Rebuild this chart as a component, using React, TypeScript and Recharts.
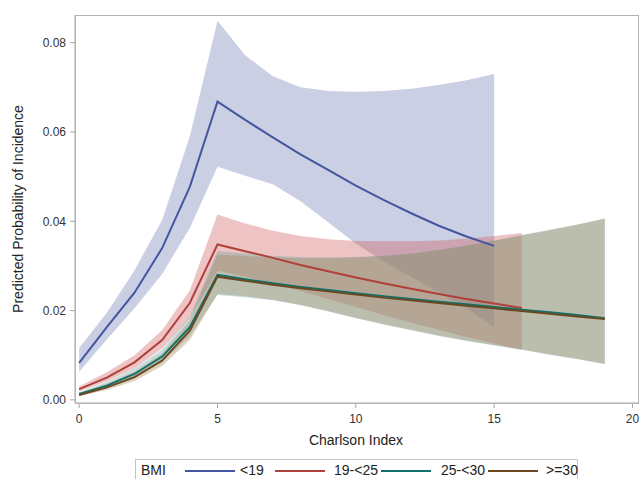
import { Area, ComposedChart, Line, XAxis, YAxis } from 'recharts';

const FONT = '"Liberation Sans", Arial, sans-serif';

// Charlson index (x) and predicted probability by BMI group
const charlson = [0, 1, 2, 3, 4, 5, 6, 7, 8, 9, 10, 11, 12, 13, 14, 15, 16, 17, 18, 19];

const blueMid = [0.0083, 0.0163, 0.024, 0.034, 0.0477, 0.0668, 0.0627, 0.0588, 0.055, 0.0515, 0.048, 0.0448, 0.0418, 0.039, 0.0366, 0.0345];
const blueLow = [0.0063, 0.0135, 0.0205, 0.0282, 0.0385, 0.0522, 0.0502, 0.0483, 0.0445, 0.0398, 0.035, 0.031, 0.0275, 0.024, 0.0205, 0.0162];
const blueHigh = [0.0116, 0.0195, 0.029, 0.0403, 0.059, 0.0849, 0.0772, 0.0725, 0.07, 0.0692, 0.069, 0.0692, 0.0697, 0.0705, 0.0716, 0.073];

const redMid = [0.0024, 0.005, 0.0084, 0.0134, 0.0217, 0.0348, 0.0333, 0.0318, 0.0302, 0.0288, 0.0274, 0.0261, 0.0249, 0.0237, 0.0226, 0.0216, 0.0206];
const redLow = [0.0019, 0.0041, 0.0071, 0.0115, 0.0184, 0.029, 0.0276, 0.026, 0.0244, 0.0226, 0.0208, 0.019, 0.0173, 0.0157, 0.0141, 0.0126, 0.0112];
const redHigh = [0.003, 0.0062, 0.01, 0.0156, 0.0245, 0.0415, 0.0395, 0.0379, 0.0367, 0.036, 0.0356, 0.0355, 0.0355, 0.0357, 0.0361, 0.0367, 0.0374];

const greenMid = [0.0013, 0.0032, 0.0058, 0.0097, 0.0163, 0.028, 0.027, 0.0261, 0.0253, 0.0246, 0.0239, 0.0232, 0.0226, 0.022, 0.0214, 0.0208, 0.0202, 0.0196, 0.019, 0.0183];
const greenLow = [0.001, 0.0026, 0.0048, 0.0084, 0.0143, 0.0235, 0.023, 0.0223, 0.0212, 0.0198, 0.0183, 0.0169, 0.0156, 0.0143, 0.0132, 0.0122, 0.0112, 0.0101, 0.0091, 0.0081];
const greenHigh = [0.0017, 0.004, 0.007, 0.0113, 0.0187, 0.0333, 0.0328, 0.0323, 0.032, 0.0319, 0.032, 0.0323, 0.0328, 0.0336, 0.0346, 0.0357, 0.0369, 0.0381, 0.0393, 0.0405];

const brownMid = [0.0011, 0.0028, 0.0051, 0.0088, 0.0155, 0.0276, 0.0267, 0.0258, 0.025, 0.0243, 0.0236, 0.0229, 0.0223, 0.0217, 0.0211, 0.0205, 0.0199, 0.0193, 0.0187, 0.0181];
const brownLow = [0.0008, 0.0022, 0.0042, 0.0076, 0.0134, 0.0237, 0.0232, 0.0224, 0.0213, 0.0199, 0.0184, 0.017, 0.0157, 0.0144, 0.0133, 0.0123, 0.0113, 0.0102, 0.0092, 0.008];
const brownHigh = [0.0015, 0.0036, 0.0063, 0.0104, 0.0178, 0.0325, 0.0322, 0.0319, 0.0317, 0.0317, 0.0319, 0.0322, 0.0327, 0.0335, 0.0345, 0.0356, 0.0368, 0.038, 0.0392, 0.0407];

const xTicks = [0, 5, 10, 15, 20];
const yTicks = [0, 0.02, 0.04, 0.06, 0.08];

const groups = [
  { key: 'blue', name: '<19', line: '#4556a0', fill: '#6F7EB3', mid: blueMid, low: blueLow, high: blueHigh },
  { key: 'red', name: '19-<25', line: '#b0403a', fill: '#D05B5B', mid: redMid, low: redLow, high: redHigh },
  { key: 'green', name: '25-<30', line: '#11706a', fill: '#66A5A0', mid: greenMid, low: greenLow, high: greenHigh },
  { key: 'brown', name: '>=30', line: '#6a4820', fill: '#A9865B', mid: brownMid, low: brownLow, high: brownHigh },
];

const data = charlson.map((c, i) => {
  const row: Record<string, unknown> = { c };
  groups.forEach((g) => {
    if (g.mid[i] !== undefined) {
      row[g.key] = g.mid[i];
      row[g.key + 'Band'] = [g.low[i], g.high[i]];
    }
  });
  return row;
});

function BmiLegend() {
  const items = [
    { x: 184, tx: 239 },
    { x: 274, tx: 333 },
    { x: 380, tx: 440 },
    { x: 487, tx: 545 },
  ];
  return (
    <div
      style={{
        position: 'absolute',
        left: 135,
        top: 459,
        width: 443,
        height: 24,
        border: '1px solid #c4c4c4',
        boxSizing: 'border-box',
        fontFamily: FONT,
        fontSize: 14,
        color: '#222',
      }}
    >
      <span style={{ position: 'absolute', left: 5, top: 2 }}>BMI</span>
      {groups.map((g, i) => (
        <div key={g.key}>
          <div
            style={{
              position: 'absolute',
              left: items[i].x - 135,
              top: 10,
              width: 50,
              height: 2,
              background: g.line,
            }}
          />
          <span style={{ position: 'absolute', left: items[i].tx - 135, top: 2 }}>{g.name}</span>
        </div>
      ))}
    </div>
  );
}

export default function App() {
  return (
    <div style={{ position: 'absolute', left: 0, top: 0, width: 640, height: 479, background: '#fff', overflow: 'hidden' }}>
      <ComposedChart width={640} height={479} data={data} margin={{ top: 15, right: 2, left: 0, bottom: 46 }}>
        <XAxis
          dataKey="c"
          type="number"
          domain={[-0.15, 20.2]}
          ticks={xTicks}
          allowDataOverflow
          height={30}
          tickSize={5}
          tickMargin={6}
          stroke="#a8a8a8"
          tick={{ fill: '#333', fontSize: 12, fontFamily: FONT }}
          label={() => (
            <text x={356} y={445} textAnchor="middle" fill="#222" fontSize={14} fontFamily={FONT}>
              Charlson Index
            </text>
          )}
        />
        <YAxis
          type="number"
          domain={[-0.0007, 0.0862]}
          ticks={yTicks}
          allowDataOverflow
          width={75}
          tickSize={5}
          tickMargin={4}
          stroke="#a8a8a8"
          tickFormatter={(v: number) => v.toFixed(2)}
          tick={{ fill: '#333', fontSize: 12, fontFamily: FONT }}
          label={() => (
            <text x={23} y={209} transform="rotate(-90 23 209)" textAnchor="middle" fill="#222" fontSize={14} fontFamily={FONT}>
              Predicted Probability of Incidence
            </text>
          )}
        />
        {groups.map((g) => (
          <Area
            key={g.key + 'Band'}
            dataKey={g.key + 'Band'}
            type="linear"
            stroke="none"
            fill={g.fill}
            fillOpacity={0.37}
            isAnimationActive={false}
            activeDot={false}
          />
        ))}
        {groups.map((g) => (
          <Line
            key={g.key}
            dataKey={g.key}
            name={g.name}
            type="linear"
            stroke={g.line}
            strokeWidth={2}
            dot={false}
            activeDot={false}
            isAnimationActive={false}
          />
        ))}
      </ComposedChart>
      {/* plot frame */}
      <div
        style={{
          position: 'absolute',
          left: 75,
          top: 15,
          width: 564,
          height: 389,
          border: '1px solid #b4b4b4',
          boxSizing: 'border-box',
          pointerEvents: 'none',
        }}
      />
      <BmiLegend />
    </div>
  );
}
